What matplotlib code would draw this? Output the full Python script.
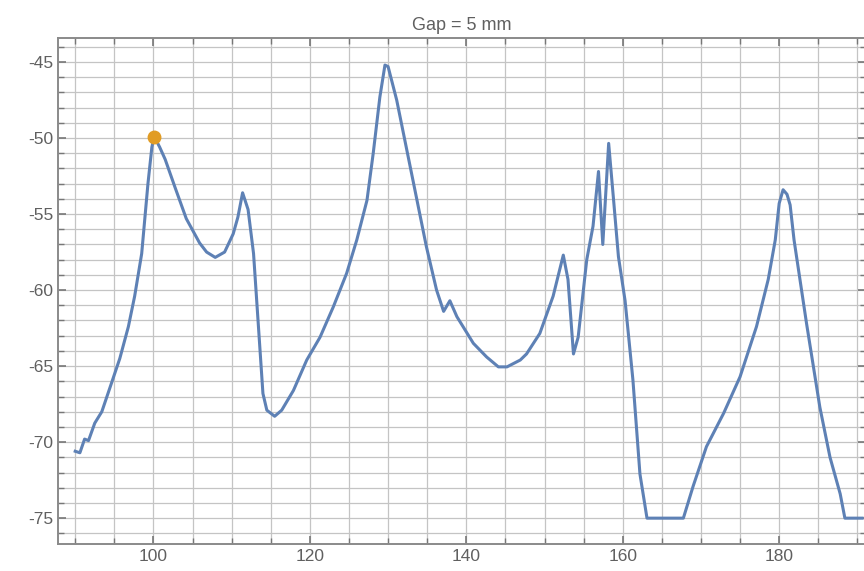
import matplotlib
matplotlib.use("Agg")
import matplotlib.pyplot as plt
from matplotlib.ticker import MultipleLocator, FixedLocator
import numpy as np

# traced curve (x, dB)
x_vals = [90.0, 90.6, 91.2, 91.7, 92.5, 93.4, 94.65, 95.7, 96.8, 97.6, 98.5, 99.3, 99.8, 100.1,
          100.8, 101.5, 102.8, 104.2, 105.9, 106.8, 107.9, 109.1, 110.2, 110.8, 111.4, 112.1, 112.8, 113.4,
          114.0, 114.5, 115.5, 116.4, 117.9, 119.6, 121.3, 123.0, 124.7, 126.0, 127.3, 128.1,
          128.95, 129.6, 130.0, 131.1, 132.4, 133.7, 134.9, 136.2, 137.1, 137.9, 138.8, 140.9,
          142.6, 144.1, 145.2, 146.9, 147.7, 149.4, 151.1, 152.4, 153.0, 153.7, 154.3, 155.4,
          156.2, 156.9, 157.45, 158.2, 158.8, 159.45, 160.3, 161.3, 162.2, 163.1, 167.75, 169.0,
          170.7, 172.9, 175.0, 177.1, 178.6, 179.5, 180.0, 180.5, 181.0, 181.4, 181.9, 183.5, 185.2, 186.5,
          187.8, 188.4, 190.6]
y_vals = [-70.6, -70.7, -69.8, -69.9, -68.75, -68.0, -66.1, -64.5, -62.4, -60.4, -57.6, -53.0, -50.6, -49.9,
          -50.6, -51.4, -53.3, -55.3, -56.9, -57.5, -57.85, -57.5, -56.3, -55.2, -53.6, -54.7, -57.6, -62.2,
          -66.8, -67.9, -68.3, -67.9, -66.6, -64.6, -63.1, -61.1, -58.9, -56.7, -54.1, -51.0,
          -47.3, -45.2, -45.3, -47.5, -50.8, -54.1, -57.15, -60.0, -61.4, -60.7, -61.75, -63.5,
          -64.4, -65.05, -65.05, -64.6, -64.2, -62.85, -60.4, -57.7, -59.3, -64.2, -63.1, -58.0,
          -55.8, -52.2, -57.0, -50.35, -53.9, -57.8, -60.7, -65.9, -72.1, -75.0, -75.0, -72.9,
          -70.3, -68.1, -65.7, -62.4, -59.3, -56.7, -54.3, -53.4, -53.7, -54.4, -56.7, -62.2, -67.7, -71.0,
          -73.4, -75.0, -75.0]
peak_x = [100.1]
peak_y = [-49.9]
x_labels = [100, 120, 140, 160, 180]
y_labels = [-75, -70, -65, -60, -55, -50, -45]

plt.rcParams['font.family'] = ['Liberation Sans', 'DejaVu Sans']

fig = plt.figure(figsize=(8.64, 5.71), dpi=100)
ax = fig.add_axes([58/864, 27/571, 808/864, 506/571])

ax.plot(x_vals, y_vals, color='#5E81B5', lw=2.2, zorder=3, solid_joinstyle='round')
ax.plot(peak_x, peak_y, 'o', color='#E19C24', ms=9, zorder=4)

ax.set_xlim(87.8, 191.1)
ax.set_ylim(-76.7, -43.42)

ax.xaxis.set_major_locator(FixedLocator(x_labels))
ax.xaxis.set_minor_locator(MultipleLocator(5))
ax.yaxis.set_major_locator(FixedLocator(y_labels))
ax.yaxis.set_minor_locator(MultipleLocator(1))

ax.grid(which='both', color='#c4c4c4', lw=0.9, zorder=0)

for s in ax.spines.values():
    s.set_color('#8a8a8a')
    s.set_linewidth(1.4)

ax.tick_params(which='both', direction='in', top=True, right=True, color='#777777',
               labelcolor='#606060', labelsize=12.5)
ax.tick_params(which='major', length=6, width=1.2)
ax.tick_params(which='minor', length=4, width=1.0)
ax.yaxis.set_major_formatter(matplotlib.ticker.FuncFormatter(lambda v, p: f"{int(v)}"))

ax.set_title("Gap = 5 mm", color='#606060', fontsize=13, pad=6)

fig.savefig("out.png", dpi=100)
